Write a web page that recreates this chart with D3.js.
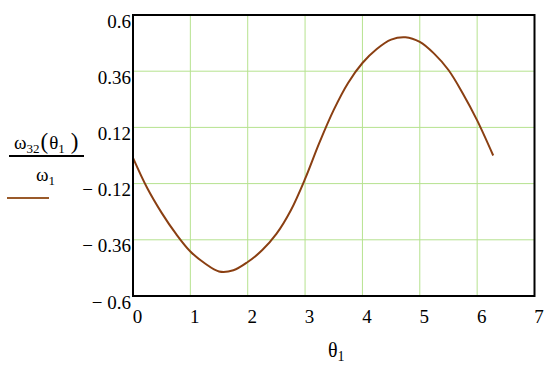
<!DOCTYPE html>
<html>
<head>
<meta charset="utf-8">
<script src="https://cdn.jsdelivr.net/npm/d3@7"></script>
<style>
  body { margin: 0; background: #fff; }
  svg text { font-family: 'Liberation Serif', 'Times New Roman', serif; fill: #000; }
</style>
</head>
<body>
<script>
// theta1 (rad) and omega32/omega1
const theta = [0, 0.25, 0.5, 0.75, 1.0, 1.25, 1.5, 1.75, 2.0, 2.25, 2.5, 2.75, 3.0,
  3.25, 3.5, 3.75, 4.0, 4.25, 4.5, 4.75, 5.0, 5.25, 5.5, 5.75, 6.0, 6.28]
const ratio = [-0.01, -0.14, -0.245, -0.335, -0.41, -0.46, -0.495, -0.49, -0.455, -0.405, -0.335, -0.235, -0.10,
  0.055, 0.195, 0.31, 0.395, 0.455, 0.495, 0.505, 0.485, 0.435, 0.365, 0.265, 0.15, 0.0]

const xTicks = [0, 1, 2, 3, 4, 5, 6, 7]
const yTicks = [-0.6, -0.36, -0.12, 0.12, 0.36, 0.6]

const width = 550
const height = 371
const plot = { left: 133, right: 534.5, top: 15, bottom: 296 }

const traceColor = '#8a3f12'
const gridColor = '#b6e28f'

const svg = d3.select('body').append('svg')
  .attr('width', width)
  .attr('height', height)

const x = d3.scaleLinear().domain([0, 7]).range([plot.left, plot.right])
const y = d3.scaleLinear().domain([-0.6, 0.6]).range([plot.bottom, plot.top])

// grid
svg.append('g')
  .selectAll('line')
  .data(xTicks.slice(1, -1))
  .enter().append('line')
  .attr('x1', d => x(d)).attr('x2', d => x(d))
  .attr('y1', plot.top).attr('y2', plot.bottom)
  .attr('stroke', gridColor).attr('stroke-width', 1)

svg.append('g')
  .selectAll('line')
  .data(yTicks.slice(1, -1))
  .enter().append('line')
  .attr('x1', plot.left).attr('x2', plot.right)
  .attr('y1', d => y(d)).attr('y2', d => y(d))
  .attr('stroke', gridColor).attr('stroke-width', 1)

// trace
const points = theta.map((t, i) => ({ t, v: ratio[i] }))
const line = d3.line()
  .x(d => x(d.t))
  .y(d => y(d.v))
  .curve(d3.curveCatmullRom)

svg.append('path')
  .datum(points)
  .attr('d', line)
  .attr('fill', 'none')
  .attr('stroke', traceColor)
  .attr('stroke-width', 2)

// frame
svg.append('rect')
  .attr('x', plot.left).attr('y', plot.top)
  .attr('width', plot.right - plot.left)
  .attr('height', plot.bottom - plot.top)
  .attr('fill', 'none')
  .attr('stroke', '#000')
  .attr('stroke-width', 2)

// tick labels
const fmt = d => d < 0 ? '\u2212 ' + String(Math.abs(d)) : String(d)

svg.append('g')
  .selectAll('text')
  .data(yTicks)
  .enter().append('text')
  .attr('x', 131)
  .attr('y', d => y(d) + 12.5)
  .attr('text-anchor', 'end')
  .attr('font-size', 19)
  .text(fmt)

svg.append('g')
  .selectAll('text')
  .data(xTicks)
  .enter().append('text')
  .attr('x', d => x(d) + 4.5)
  .attr('y', 322.5)
  .attr('text-anchor', 'middle')
  .attr('font-size', 19)
  .text(d => d)

// x title
const xt = svg.append('text')
  .attr('x', 328)
  .attr('y', 357)
  .attr('font-size', 20)
xt.append('tspan').text('\u03b8')
xt.append('tspan').attr('font-size', 14).attr('dy', 4).text('1')

// y title: fraction
const num = svg.append('text')
  .attr('x', 14)
  .attr('y', 149)
  .attr('font-size', 19)
num.append('tspan').text('\u03c9')
num.append('tspan').attr('font-size', 13).attr('dy', 4).text('32')
num.append('tspan').attr('dy', -4).attr('dx', 1).attr('font-size', 23).text('(')
num.append('tspan').attr('dx', 1).text('\u03b8')
num.append('tspan').attr('font-size', 13).attr('dy', 4).text('1')
num.append('tspan').attr('dy', -4).attr('dx', 6).attr('font-size', 23).text(')')

svg.append('line')
  .attr('x1', 9).attr('x2', 84)
  .attr('y1', 156).attr('y2', 156)
  .attr('stroke', '#000').attr('stroke-width', 2)

const den = svg.append('text')
  .attr('x', 36)
  .attr('y', 181)
  .attr('font-size', 19)
den.append('tspan').text('\u03c9')
den.append('tspan').attr('font-size', 13).attr('dy', 4).text('1')

// legend swatch
svg.append('line')
  .attr('x1', 7).attr('x2', 49)
  .attr('y1', 198).attr('y2', 198)
  .attr('stroke', '#9a5a2a').attr('stroke-width', 2)
</script>
</body>
</html>
